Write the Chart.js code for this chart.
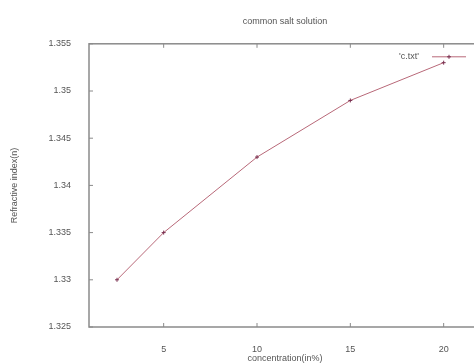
<!DOCTYPE html>
<html>
<head>
<meta charset="utf-8">
<script src="https://cdn.jsdelivr.net/npm/chart.js@4.4.0/dist/chart.umd.min.js"></script>
<style>
  html, body { margin: 0; padding: 0; background: #fff; overflow: hidden; }
  canvas { display: block; }
</style>
</head>
<body>
<canvas id="saltChart" width="500" height="364"></canvas>
<script>
// concentration (in %) and refractive index
const concentration = [2.5, 5, 10, 15, 20];
const refractiveIndex = [1.330, 1.335, 1.343, 1.349, 1.353];
const xTicks = [5, 10, 15, 20];
const yTicks = [1.325, 1.33, 1.335, 1.34, 1.345, 1.35, 1.355];
const seriesName = "'c.txt'";

const frameColor = '#8a8a8a';
const textColor = '#555';
const lineColor = '#b86878';
const pointColor = '#7a3050';

// gnuplot style frame: box around plot, ticks pointing inward, key in the corner
const framePlugin = {
    id: 'frame',
    afterDraw(chart) {
        const ctx = chart.ctx;
        const a = chart.chartArea;
        const xs = chart.scales.x, ys = chart.scales.y;
        ctx.save();
        ctx.strokeStyle = frameColor;
        ctx.lineWidth = 1.5;
        ctx.strokeRect(a.left, a.top, a.right - a.left, a.bottom - a.top);
        ctx.lineWidth = 1;
        ctx.beginPath();
        xTicks.forEach(v => {
            const px = xs.getPixelForValue(v);
            ctx.moveTo(px, a.bottom); ctx.lineTo(px, a.bottom - 4);
            ctx.moveTo(px, a.top); ctx.lineTo(px, a.top + 4);
        });
        yTicks.forEach(v => {
            const py = ys.getPixelForValue(v);
            ctx.moveTo(a.left, py); ctx.lineTo(a.left + 4, py);
            ctx.moveTo(a.right, py); ctx.lineTo(a.right - 4, py);
        });
        ctx.stroke();

        // key
        const ky = a.top + 13;
        ctx.fillStyle = textColor;
        ctx.font = '9px "Liberation Sans", Arial, sans-serif';
        ctx.textAlign = 'right';
        ctx.textBaseline = 'middle';
        ctx.fillText(seriesName, a.left + 330, ky);
        ctx.strokeStyle = lineColor;
        ctx.beginPath();
        ctx.moveTo(a.left + 343, ky); ctx.lineTo(a.left + 377, ky);
        ctx.stroke();
        ctx.strokeStyle = pointColor;
        ctx.beginPath();
        const cx = a.left + 360;
        ctx.moveTo(cx - 2, ky); ctx.lineTo(cx + 2, ky);
        ctx.moveTo(cx, ky - 2); ctx.lineTo(cx, ky + 2);
        ctx.stroke();
        ctx.restore();
    }
};

const font = { family: '"Liberation Sans", Arial, sans-serif', size: 9, weight: 'normal' };

new Chart(document.getElementById('saltChart').getContext('2d'), {
    type: 'line',
    data: {
        datasets: [{
            label: seriesName,
            data: concentration.map((c, i) => ({ x: c, y: refractiveIndex[i] })),
            borderColor: lineColor,
            borderWidth: 1,
            pointStyle: 'cross',
            pointRadius: 2,
            pointBorderColor: pointColor,
            pointBorderWidth: 1,
            tension: 0
        }]
    },
    options: {
        responsive: false,
        animation: false,
        layout: { padding: { left: 0, right: 19, top: 0, bottom: 0 } },
        plugins: {
            legend: { display: false },
            tooltip: { enabled: false },
            title: {
                display: true,
                text: 'common salt solution',
                fullSize: false,
                color: textColor,
                font: font,
                padding: { top: 16, bottom: 17 }
            }
        },
        scales: {
            x: {
                type: 'linear',
                min: 1,
                max: 22,
                afterBuildTicks: s => { s.ticks = xTicks.map(v => ({ value: v })); },
                afterFit: s => { s.height = 37; },
                grid: { display: false },
                border: { display: false },
                ticks: { color: textColor, font: font, padding: 9, maxRotation: 0 },
                title: {
                    display: true,
                    text: 'concentration(in%)',
                    color: textColor,
                    font: font,
                    padding: { top: 0, bottom: 0 }
                }
            },
            y: {
                type: 'linear',
                min: 1.325,
                max: 1.355,
                afterBuildTicks: s => { s.ticks = yTicks.map(v => ({ value: v })); },
                afterFit: s => { s.width = 89; },
                grid: { display: false },
                border: { display: false },
                ticks: { color: textColor, font: font, padding: 10, callback: v => String(v) },
                title: {
                    display: true,
                    text: 'Refractive index(n)',
                    color: textColor,
                    font: font,
                    padding: { top: 9, bottom: 0 }
                }
            }
        }
    },
    plugins: [framePlugin]
});
</script>
</body>
</html>
